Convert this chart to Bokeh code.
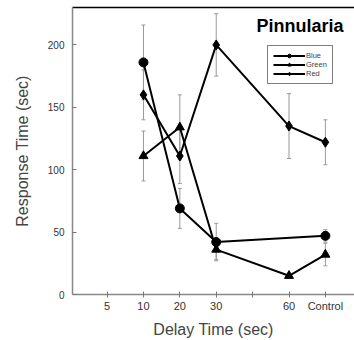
from bokeh.plotting import figure
from bokeh.models import (ColumnDataSource, Whisker, TeeHead, Legend, LegendItem,
                          Label, Range1d, FixedTicker, LinearAxis)
from bokeh.embed import file_html
from bokeh.resources import INLINE

# ---- data ----
delay_labels = ["5", "10", "20", "30", "", "60", "Control"]

blue_delays = ["10", "20", "30", "Control"]
blue_mean = [186, 69, 42, 47]
blue_err = [30, 16, 15, 5]

green_delays = ["10", "20", "30", "60", "Control"]
green_mean = [111, 134, 36, 15, 32]
green_err = [20, 26, 8, 2, 9]

red_delays = ["10", "20", "30", "60", "Control"]
red_mean = [160, 111, 200, 135, 122]
red_err = [20, 22, 25, 26, 18]

y_ticks = [0, 50, 100, 150, 200]

FONT = "Liberation Sans"

def pos(labels):
    return [delay_labels.index(d) + 1 for d in labels]

p = figure(width=354, height=340, output_backend="svg", toolbar_location=None,
           x_range=Range1d(0.05, 7.8), y_range=Range1d(0, 230),
           min_border_left=72, min_border_right=0, min_border_top=7,
           min_border_bottom=44)
p.xgrid.visible = False
p.ygrid.visible = False
p.outline_line_color = None
p.background_fill_color = "white"
p.border_fill_color = "white"

# x axis (bottom)
xa = p.below[0]
xa.ticker = FixedTicker(ticks=list(range(1, len(delay_labels) + 1)))
xa.major_label_overrides = {i + 1: lab for i, lab in enumerate(delay_labels)}
xa.minor_tick_line_color = None
xa.major_tick_in = 3
xa.major_tick_out = 3
xa.major_tick_line_color = "#777777"
xa.axis_line_color = "#888888"
xa.axis_line_width = 1.5
xa.major_label_standoff = 2
xa.major_label_text_font = FONT
xa.major_label_text_font_size = "11px"
xa.major_label_text_color = "#333333"
xa.axis_label = "Delay Time (sec)"
xa.axis_label_text_font = FONT
xa.axis_label_text_font_style = "normal"
xa.axis_label_text_font_size = "16px"
xa.axis_label_standoff = 6

# top border line
top = LinearAxis(major_tick_line_color=None, minor_tick_line_color=None,
                 major_label_text_font_size="0px", major_label_text_alpha=0,
                 axis_line_color="black", axis_line_width=1.5,
                 ticker=FixedTicker(ticks=[]), major_label_standoff=0,
                 major_tick_out=0, major_tick_in=0)
p.add_layout(top, "above")

# y axis
ya = p.left[0]
ya.ticker = FixedTicker(ticks=y_ticks)
ya.minor_tick_line_color = None
ya.major_tick_in = 4
ya.major_tick_out = 0
ya.major_tick_line_color = "#777777"
ya.axis_line_color = "#888888"
ya.axis_line_width = 1.5
ya.major_label_standoff = 8
ya.major_label_text_font = FONT
ya.major_label_text_font_size = "10px"
ya.major_label_text_color = "#333333"
ya.axis_label = "Response Time (sec)"
ya.axis_label_text_font = FONT
ya.axis_label_text_font_style = "normal"
ya.axis_label_text_font_size = "16px"
ya.axis_label_standoff = 14

series = [
    ("Blue", blue_delays, blue_mean, blue_err, "circle", 9),
    ("Green", green_delays, green_mean, green_err, "triangle", 9),
    ("Red", red_delays, red_mean, red_err, "diamond", 10),
]

items = []
for name, d, m, e, marker, size in series:
    src = ColumnDataSource(dict(x=pos(d), y=m,
                                lo=[a - b for a, b in zip(m, e)],
                                hi=[a + b for a, b in zip(m, e)]))
    w = Whisker(source=src, base="x", upper="hi", lower="lo",
                line_color="#999999", line_width=1,
                upper_head=TeeHead(size=4, line_color="#999999", line_width=1),
                lower_head=TeeHead(size=4, line_color="#999999", line_width=1))
    p.add_layout(w)
    lr = p.line("x", "y", source=src, line_color="black", line_width=2)
    sr = p.scatter("x", "y", source=src, marker=marker, size=size,
                   fill_color="black", line_color="black")
    items.append(LegendItem(label=name, renderers=[lr, sr]))

legend = Legend(items=items, location=(195, 210), orientation="vertical",
                label_text_font=FONT, label_text_font_size="7.5px",
                label_height=9, glyph_height=9, glyph_width=32,
                label_standoff=1, spacing=0, padding=5, margin=0,
                border_line_color="black", border_line_width=1.5,
                background_fill_alpha=1)
p.add_layout(legend, "center")

title = Label(x=271, y=269, x_units="screen", y_units="screen",
              text="Pinnularia", text_align="right", text_baseline="middle",
              text_font=FONT, text_font_style="bold", text_font_size="18px",
              text_color="black")
p.add_layout(title)

open("out.html", "w").write(file_html(p, INLINE))
